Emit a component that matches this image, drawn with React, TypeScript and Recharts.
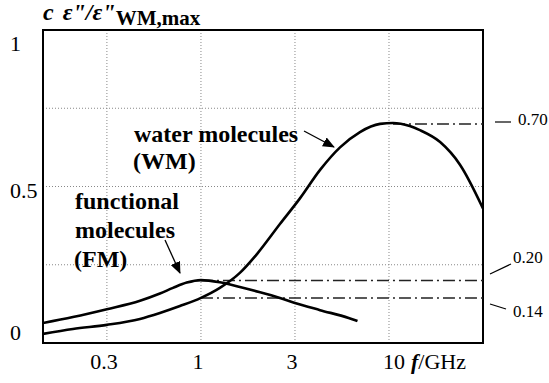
import {
    ComposedChart,
    Line,
    XAxis,
    YAxis,
    CartesianGrid,
    ReferenceLine,
    ReferenceArea,
    Customized,
} from 'recharts';

// frequency axis (GHz) and normalised loss values
const wmFreq = [0.1445, 0.2085, 0.316, 0.474, 0.605, 0.773, 1.0, 1.26, 1.61, 1.99, 2.63, 3.36, 4.3, 5.49, 7.01, 8.96, 10.5, 12.9, 14.6, 18.7, 23.9, 31.62];
const wmValue = [0.029, 0.045, 0.058, 0.077, 0.096, 0.118, 0.144, 0.176, 0.224, 0.285, 0.38, 0.462, 0.553, 0.625, 0.674, 0.7, 0.703, 0.693, 0.68, 0.642, 0.569, 0.43];

const fmFreq = [0.1445, 0.2085, 0.316, 0.474, 0.605, 0.71, 0.84, 1.0, 1.26, 1.61, 2.04, 2.63, 3.16, 4.3, 6.1, 6.8];
const fmValue = [0.064, 0.083, 0.108, 0.135, 0.158, 0.176, 0.193, 0.201, 0.194, 0.179, 0.163, 0.144, 0.128, 0.105, 0.08, 0.07];

const xTicks = [0.316, 1, 3.162, 10];
const xTickLabels = ['0.3', '1', '3', '10'];
const yTicks = [0, 0.25, 0.5, 0.75, 1];
const yTickLabels: Record<number, string> = { 0: '0', 0.5: '0.5', 1: '1' };

const F_MIN = 0.1445;
const F_MAX = 31.62;

const wmData = wmFreq.map((f, i) => ({ f, v: wmValue[i] }));
const fmData = fmFreq.map((f, i) => ({ f, v: fmValue[i] }));

const serif = { fontFamily: "'Liberation Serif', 'Times New Roman', serif" };

function XTick(props: any) {
    const { x, y, index } = props;
    const label = xTickLabels[index];
    if (label === '10') {
        return (
            <text x={x - 6} y={y + 18} style={serif} fontSize={22} fill="#000" textAnchor="start">
                10
                <tspan dx={6} fontStyle="italic" fontWeight="bold">f</tspan>
                <tspan>/GHz</tspan>
            </text>
        );
    }
    return (
        <text x={x - 3} y={y + 18} style={serif} fontSize={22} fill="#000" textAnchor="middle">
            {label}
        </text>
    );
}

function YTick(props: any) {
    const { y, payload } = props;
    const label = yTickLabels[payload.value];
    if (!label) return null;
    const shift = payload.value === 1 ? 21 : payload.value === 0 ? -3 : 11;
    return (
        <text x={10} y={y + shift} style={serif} fontSize={22} fill="#000" textAnchor="start">
            {label}
        </text>
    );
}

function Annotations() {
    return (
        <g fill="#000">
            <defs>
                <marker id="arrowHead" markerWidth="12" markerHeight="10" refX="11" refY="5" orient="auto" markerUnits="userSpaceOnUse">
                    <path d="M0,0 L12,5 L0,10 Z" fill="#000" />
                </marker>
            </defs>
            <text x={43} y={20} style={serif} fontSize={24} fontWeight="bold" fontStyle="italic">
                c
                <tspan dx={9}>ε"/ε"</tspan>
                <tspan fontStyle="normal" fontSize={21} dy={5}>WM,max</tspan>
            </text>

            <text x={134} y={142} style={serif} fontSize={24} fontWeight="bold">water molecules</text>
            <text x={133} y={169} style={serif} fontSize={24} fontWeight="bold">(WM)</text>
            <line x1={304} y1={131} x2={334} y2={147} stroke="#000" strokeWidth={1.3} markerEnd="url(#arrowHead)" />

            <text x={75} y={209} style={serif} fontSize={24} fontWeight="bold">functional</text>
            <text x={75} y={238} style={serif} fontSize={24} fontWeight="bold">molecules</text>
            <text x={74} y={267} style={serif} fontSize={24} fontWeight="bold">(FM)</text>
            <line x1={165} y1={240} x2={180} y2={273} stroke="#000" strokeWidth={1.3} markerEnd="url(#arrowHead)" />

            <line x1={495} y1={122} x2={511} y2={122} stroke="#000" strokeWidth={1.2} />
            <text x={518} y={125} style={serif} fontSize={17}>0.70</text>
            <line x1={490} y1={274} x2={511} y2={264} stroke="#000" strokeWidth={1.2} />
            <text x={513} y={263} style={serif} fontSize={17}>0.20</text>
            <line x1={490} y1={304} x2={506} y2={309} stroke="#000" strokeWidth={1.2} />
            <text x={513} y={317} style={serif} fontSize={17}>0.14</text>
        </g>
    );
}

export default function App() {
    return (
        <div style={{ position: 'absolute', left: 0, top: 0, width: 549, height: 383, background: '#fff' }}>
            <ComposedChart width={549} height={383} margin={{ top: 30, right: 66, bottom: 0, left: 0 }}>
                <CartesianGrid stroke="#888" strokeDasharray="1 2" strokeWidth={1} />
                <XAxis
                    type="number"
                    dataKey="f"
                    scale="log"
                    domain={[F_MIN, F_MAX]}
                    ticks={xTicks}
                    tick={<XTick />}
                    tickLine={false}
                    axisLine={false}
                    height={40}
                    allowDataOverflow
                />
                <YAxis
                    type="number"
                    domain={[0, 1]}
                    ticks={yTicks}
                    tick={<YTick />}
                    tickLine={false}
                    axisLine={false}
                    width={43}
                />
                <ReferenceArea x1={F_MIN} x2={F_MAX} y1={0} y2={1} fill="none" stroke="#000" strokeWidth={2} ifOverflow="visible" />
                <ReferenceLine segment={[{ x: 10.5, y: 0.7 }, { x: F_MAX, y: 0.7 }]} stroke="#222" strokeWidth={1.5} strokeDasharray="12 4 2 4" />
                <ReferenceLine segment={[{ x: 1, y: 0.2 }, { x: F_MAX, y: 0.2 }]} stroke="#222" strokeWidth={1.5} strokeDasharray="12 4 2 4" />
                <ReferenceLine segment={[{ x: 1, y: 0.144 }, { x: F_MAX, y: 0.144 }]} stroke="#222" strokeWidth={1.5} strokeDasharray="12 4 2 4" />
                <Line data={wmData} dataKey="v" type="monotone" stroke="#000" strokeWidth={2.6} dot={false} isAnimationActive={false} />
                <Line data={fmData} dataKey="v" type="monotone" stroke="#000" strokeWidth={2.6} dot={false} isAnimationActive={false} />
                <Customized component={Annotations} />
            </ComposedChart>
        </div>
    );
}
